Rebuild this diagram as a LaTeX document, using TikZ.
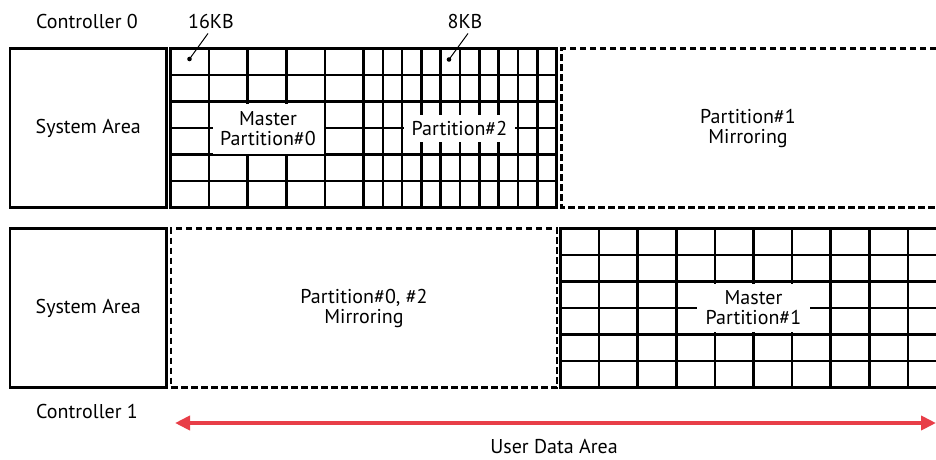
\documentclass[tikz,border=0pt]{standalone}
\usepackage{fontspec}
\setmainfont{PT Sans}
\usetikzlibrary{arrows.meta}
\definecolor{arrowred}{RGB}{232,62,72}
\tikzstyle{every node}=[font=\fontsize{20}{20}\selectfont,align=center,inner sep=0pt]
\tikzstyle{area}=[draw=black,line width=2.6pt,minimum width=156.5pt,minimum height=159pt]
\tikzstyle{gridline}=[line width=2.6pt]
\tikzstyle{mirror}=[line width=2.4pt,dash pattern=on 6.5pt off 3.5pt]
\tikzstyle{cover}=[fill=white]
\tikzstyle{leader}=[line width=1pt]
\tikzstyle{userarrow}=[arrowred,line width=4.5pt,{Triangle[length=15pt,width=14pt]}-{Triangle[length=15pt,width=14pt]}]

\begin{document}
\begin{tikzpicture}[x=1pt,y=-1pt]
    \useasboundingbox (0,0) rectangle (936,459);
    % controller 0
    \node (ctrl0) at (87,21) {Controller 0};
    \node[area] (sys0) at (88.25,128) {System Area};
    \draw[gridline] (170.5,48.5) rectangle (556.5,207.5);
    \foreach \r in {1,...,5}
        \draw[gridline] (170.5,{48.5+26.5*\r}) -- (556.5,{48.5+26.5*\r});
    \foreach \c in {1,...,5}
        \draw[gridline] ({170.5+38.6*\c},48.5) -- ++(0,159);
    \foreach \c in {1,...,9}
        \draw[gridline] ({363.5+19.3*\c},48.5) -- ++(0,159);
    \node[cover,minimum width=111pt,minimum height=50pt] (mp0) at (268,128.5) {Master\\Partition\#0};
    \node[cover,minimum width=111pt,minimum height=27pt] (p2) at (459.5,128.5) {Partition\#2};
    \draw[mirror] (936,48.5) -| (561.5,207.5) -- (936,207.5);
    \node (mir1) at (748,128) {Partition\#1\\Mirroring};
    \node (kb16) at (211,21) {16KB};
    \node (kb8) at (465,21) {8KB};
    \coordinate (dot16) at (189.5,59);
    \coordinate (dot8) at (449,59.5);
    \fill (dot16) circle (2.3);
    \fill (dot8) circle (2.3);
    \draw[leader] ([xshift=-3pt,yshift=-5pt]kb16.south) -- (dot16);
    \draw[leader] ([xshift=3pt,yshift=-5pt]kb8.south) -- (dot8);
    % controller 1
    \node[area] (sys1) at (88.25,308) {System Area};
    \node[draw,mirror,minimum width=386pt,minimum height=159pt] (mir02) at (364,308) {Partition\#0, \#2\\Mirroring};
    \draw[gridline] (936,228.5) -| (560.5,387.5) -- (936,387.5);
    \foreach \r in {1,...,5}
        \draw[gridline] (560.5,{228.5+26.5*\r}) -- (936,{228.5+26.5*\r});
    \foreach \c in {1,...,9}
        \draw[gridline] ({560.5+38.6*\c},228.5) -- ++(0,159);
    \node[cover,minimum width=113pt,minimum height=48pt] (mp1) at (753.5,307.5) {Master\\Partition\#1};
    \node (ctrl1) at (87,411) {Controller 1};
    % user data
    \coordinate (userL) at (175,423);
    \coordinate (userR) at (936,423);
    \draw[userarrow] (userL) -- (userR);
    \node (user) at (554,446) {User Data Area};
\end{tikzpicture}
\end{document}
